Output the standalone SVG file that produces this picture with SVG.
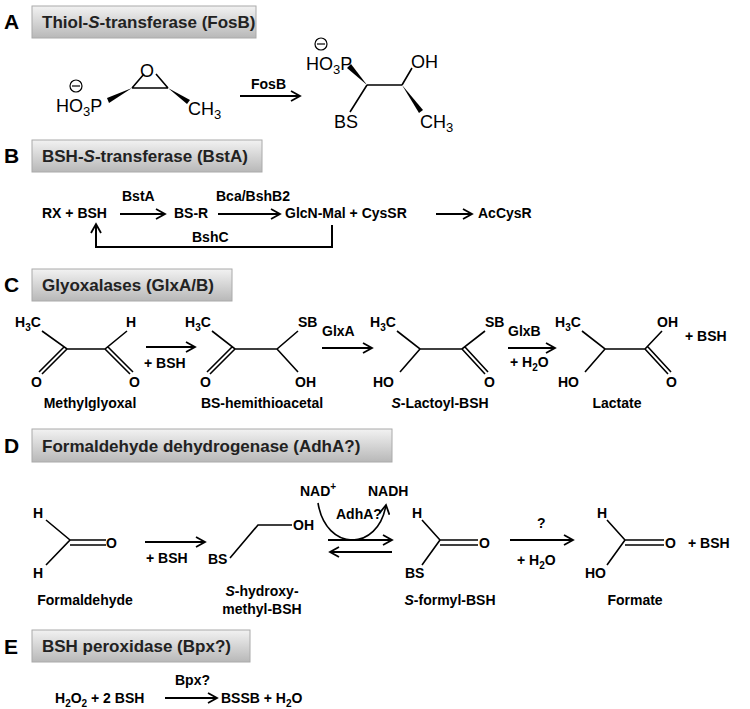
<svg xmlns="http://www.w3.org/2000/svg" width="750" height="709" viewBox="0 0 750 709">
<defs>
<linearGradient id="g" x1="0" y1="0" x2="0" y2="1"><stop offset="0" stop-color="#f2f2f2"/><stop offset="1" stop-color="#b8b8b8"/></linearGradient>
<marker id="ah" markerWidth="12" markerHeight="12" refX="10" refY="6" orient="auto" markerUnits="userSpaceOnUse"><path d="M1,1 L10,6 L1,11" fill="none" stroke="#000" stroke-width="1.8"/></marker>
</defs>
<style>
.hb{fill:url(#g);stroke:#aaa;stroke-width:1}
.ht{font-family:"Liberation Sans",Arial,sans-serif;font-weight:bold;font-size:17px;fill:#222}
.L{font-family:"Liberation Sans",Arial,sans-serif;font-weight:bold;font-size:21px}
.t{font-family:"Liberation Sans",Arial,sans-serif;font-weight:bold;font-size:14px}
.a{font-family:"Liberation Sans",Arial,sans-serif;font-size:18px}
.b{stroke:#000;stroke-width:1.6;fill:none}
.ar{stroke:#000;stroke-width:2;fill:none;marker-end:url(#ah)}
</style>
<g id="headers">
<text class="L" x="4" y="29">A</text><rect class="hb" x="32" y="6" width="224" height="32"/><text class="ht" x="42" y="28">Thiol-<tspan font-style="italic">S</tspan>-transferase (FosB)</text>
<text class="L" x="4" y="163">B</text><rect class="hb" x="32" y="140" width="230" height="32"/><text class="ht" x="42" y="162">BSH-<tspan font-style="italic">S</tspan>-transferase (BstA)</text>
<text class="L" x="4" y="292">C</text><rect class="hb" x="32" y="269" width="200" height="32"/><text class="ht" x="42" y="291">Glyoxalases (GlxA/B)</text>
<text class="L" x="4" y="453">D</text><rect class="hb" x="32" y="429" width="360" height="33"/><text class="ht" x="42" y="452">Formaldehyde dehydrogenase (AdhA?)</text>
<text class="L" x="4" y="654">E</text><rect class="hb" x="32" y="630" width="218" height="32"/><text class="ht" x="42" y="652">BSH peroxidase  (Bpx?)</text>
</g>
<g id="A-sub">
<text class="a" x="140" y="77">O</text>
<path class="b" d="M132,88 L168,88 M132,88 L144,74 M168,88 L156,74"/>
<polygon points="132,88 107,98 109,103"/>
<polygon points="168,88 190,100 187,104"/>
<text class="a" x="56" y="112">HO<tspan font-size="13" dy="4">3</tspan><tspan dy="-4">P</tspan></text>
<circle cx="76" cy="86" r="6" fill="none" stroke="#000" stroke-width="1.2"/><path d="M72,86 H80" stroke="#000" stroke-width="1.2"/>
<text class="a" x="188" y="115">CH<tspan font-size="13" dy="4">3</tspan></text>
</g>
<g id="A-prod">
<circle cx="321" cy="44" r="6" fill="none" stroke="#000" stroke-width="1.2"/><path d="M317,44 H325" stroke="#000" stroke-width="1.2"/>
<text class="a" x="306" y="70">HO<tspan font-size="13" dy="4">3</tspan><tspan dy="-4">P</tspan></text>
<polygon points="367,85 347,68 351,64"/>
<path class="b" d="M367,85 L402,85 M367,85 L350,112 M402,85 L412,68"/>
<polygon points="402,85 423,110 419,113"/>
<text class="a" x="411" y="68">OH</text>
<text class="a" x="334" y="128">BS</text>
<text class="a" x="420" y="128">CH<tspan font-size="13" dy="4">3</tspan></text>
</g>
<g id="B-nodes">
<text class="t" x="42" y="218">RX + BSH</text>
<text class="t" x="174" y="218">BS-R</text>
<text class="t" x="285" y="218">GlcN-Mal + CysSR</text>
<text class="t" x="478" y="218">AcCysR</text>
</g>
<g id="C-nodes">
<g id="methylglyoxal"><text class="t" x="15" y="327">H<tspan font-size="10" dy="4">3</tspan><tspan dy="-4">C</tspan></text><text class="t" x="126" y="327">H</text>
<path class="b" d="M42,331 L67,349 L105,349 L127,331 M67,349 L42,374 M64,347 L39,372 M105,349 L130,374 M108,347 L133,372"/>
<text class="t" x="31" y="387">O</text><text class="t" x="129" y="387">O</text><text class="t" x="90" y="408" text-anchor="middle">Methylglyoxal</text></g>
<g id="hemithioacetal"><text class="t" x="185" y="327">H<tspan font-size="10" dy="4">3</tspan><tspan dy="-4">C</tspan></text><text class="t" x="298" y="327">SB</text>
<path class="b" d="M212,331 L235,349 L277,349 L298,331 M235,349 L210,374 M232,347 L207,372 M277,349 L298,372"/>
<text class="t" x="200" y="387">O</text><text class="t" x="295" y="387">OH</text><text class="t" x="262" y="408" text-anchor="middle">BS-hemithioacetal</text></g>
<g id="lactoyl"><text class="t" x="370" y="327">H<tspan font-size="10" dy="4">3</tspan><tspan dy="-4">C</tspan></text><text class="t" x="485" y="327">SB</text>
<path class="b" d="M397,331 L420,349 L462,349 L485,331 M420,349 L400,372 M462,349 L485,374 M465,347 L488,372"/>
<text class="t" x="373" y="387">HO</text><text class="t" x="484" y="387">O</text><text class="t" x="440" y="408" text-anchor="middle"><tspan font-style="italic">S</tspan>-Lactoyl-BSH</text></g>
<g id="lactate"><text class="t" x="555" y="327">H<tspan font-size="10" dy="4">3</tspan><tspan dy="-4">C</tspan></text><text class="t" x="657" y="327">OH</text>
<path class="b" d="M582,331 L605,349 L645,349 L662,331 M605,349 L585,372 M645,349 L668,374 M648,347 L671,372"/>
<text class="t" x="558" y="387">HO</text><text class="t" x="666" y="387">O</text><text class="t" x="617" y="408" text-anchor="middle">Lactate</text>
<text class="t" x="685" y="341">+ BSH</text></g>
</g>
<g id="D-nodes">
<g id="formaldehyde"><text class="t" x="33" y="518">H</text><text class="t" x="33" y="578">H</text>
<path class="b" d="M46,520 L70,540 L46,565 M70,540 L106,540 M70,545 L106,545"/><text class="t" x="106" y="548">O</text>
<text class="t" x="85" y="605" text-anchor="middle">Formaldehyde</text></g>
<g id="hydroxymethyl"><text class="t" x="208" y="564">BS</text><path class="b" d="M230,558 L258,525 L292,525"/><text class="t" x="293" y="530">OH</text>
<text class="t" x="262" y="596" text-anchor="middle"><tspan font-style="italic">S</tspan>-hydroxy-</text><text class="t" x="262" y="614" text-anchor="middle">methyl-BSH</text></g>
<g id="formylbsh"><text class="t" x="412" y="518">H</text><text class="t" x="405" y="578">BS</text>
<path class="b" d="M422,520 L440,540 L422,565 M440,540 L478,540 M440,545 L478,545"/><text class="t" x="479" y="548">O</text>
<text class="t" x="450" y="605" text-anchor="middle"><tspan font-style="italic">S</tspan>-formyl-BSH</text></g>
<g id="formate"><text class="t" x="597" y="518">H</text><text class="t" x="585" y="578">HO</text>
<path class="b" d="M607,520 L625,540 L607,565 M625,540 L664,540 M625,545 L664,545"/><text class="t" x="665" y="548">O</text>
<text class="t" x="688" y="548">+ BSH</text>
<text class="t" x="635" y="605" text-anchor="middle">Formate</text></g>
<text class="t" x="300" y="496">NAD<tspan font-size="10" dy="-6">+</tspan></text>
<text class="t" x="368" y="496">NADH</text>
</g>
<g id="E-nodes">
<text class="t" x="55" y="703">H<tspan font-size="10" dy="4">2</tspan><tspan dy="-4">O</tspan><tspan font-size="10" dy="4">2</tspan><tspan dy="-4"> + 2 BSH</tspan></text>
<text class="t" x="221" y="703">BSSB + H<tspan font-size="10" dy="4">2</tspan><tspan dy="-4">O</tspan></text>
</g>
<g id="connectors">
<path class="ar" d="M240,96 L300,96"/><text class="t" x="251" y="89">FosB</text>
<path class="ar" d="M120,214 L165,214"/><text class="t" x="122" y="201">BstA</text>
<path class="ar" d="M218,214 L280,214"/><text class="t" x="216" y="201">Bca/BshB2</text>
<path class="ar" d="M436,214 L472,214"/>
<path class="ar" d="M332,225 L332,247 L96,247 L96,224"/><text class="t" x="192" y="242">BshC</text>
<path class="ar" d="M146,347 L195,347"/><text class="t" x="144" y="368">+ BSH</text>
<path class="ar" d="M322,348 L372,348"/><text class="t" x="322" y="336">GlxA</text>
<path class="ar" d="M508,348 L555,348"/><text class="t" x="508" y="336">GlxB</text><text class="t" x="510" y="367">+ H<tspan font-size="10" dy="4">2</tspan><tspan dy="-4">O</tspan></text>
<path class="ar" d="M145,542 L205,542"/><text class="t" x="146" y="563">+ BSH</text>
<path class="ar" d="M328,540 L392,540"/>
<path class="ar" d="M392,552 L330,552"/>
<path class="b" d="M318,503 C326,552 378,552 386,505" marker-end="url(#ah)" stroke-width="2"/>
<text class="t" x="336" y="519">AdhA?</text>
<path class="ar" d="M510,540 L573,540"/><text class="t" x="537" y="528">?</text><text class="t" x="517" y="565">+ H<tspan font-size="10" dy="4">2</tspan><tspan dy="-4">O</tspan></text>
<path class="ar" d="M165,698 L217,698"/><text class="t" x="175" y="685">Bpx?</text>
</g>
</svg>
